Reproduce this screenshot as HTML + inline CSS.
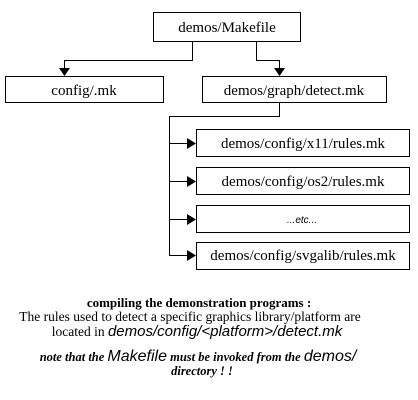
<!DOCTYPE html>
<html><head><meta charset="utf-8"><style>
html,body{margin:0;padding:0;background:#fff;width:418px;height:400px;overflow:hidden}
svg{display:block}
text{font-family:"Liberation Serif",serif;font-size:15px;fill:#000}
</style></head><body>
<svg width="418" height="400" viewBox="0 0 418 400">
<g fill="none" stroke="#000" stroke-width="1">
<rect x="153.5" y="12.5" width="147" height="29"/>
<rect x="5.5" y="76.5" width="158" height="26"/>
<rect x="202.5" y="76.5" width="184" height="26"/>
<rect x="196.5" y="129.5" width="213" height="27"/>
<rect x="196.5" y="167.5" width="213" height="27"/>
<rect x="196.5" y="205.5" width="213" height="27"/>
<rect x="196.5" y="242.5" width="213" height="27"/>
<polyline points="192.5,42 192.5,60.5 64.5,60.5 64.5,70"/>
<polyline points="256.5,42 256.5,60.5 279.5,60.5 279.5,70"/>
<polyline points="279.5,103 279.5,116.5 169.5,116.5 169.5,255.5 190,255.5"/>
<line x1="169" y1="143.5" x2="190" y2="143.5"/>
<line x1="169" y1="181.5" x2="190" y2="181.5"/>
<line x1="169" y1="219.5" x2="190" y2="219.5"/>
</g>
<g fill="#000">
<polygon points="59,68 70,68 64.5,76"/>
<polygon points="274,68 285,68 279.5,76"/>
<polygon points="187,138 196,143.5 187,149"/>
<polygon points="187,176 196,181.5 187,187"/>
<polygon points="187,214 196,219.5 187,225"/>
<polygon points="187,250 196,255.5 187,261"/>
</g>
<text x="227" y="32" text-anchor="middle">demos/Makefile</text>
<text x="84" y="95" text-anchor="middle">config/.mk</text>
<text x="294" y="95" text-anchor="middle">demos/graph/detect.mk</text>
<text x="303" y="148" text-anchor="middle">demos/config/x11/rules.mk</text>
<text x="303" y="186" text-anchor="middle">demos/config/os2/rules.mk</text>
<text x="302" y="223" text-anchor="middle" style="font-family:'Liberation Sans',sans-serif;font-size:10px;font-style:italic">...etc...</text>
<text x="303" y="260" text-anchor="middle">demos/config/svgalib/rules.mk</text>
<text x="199" y="307" text-anchor="middle" style="font-weight:bold;font-size:13px">compiling the demonstration programs :</text>
<text x="190" y="321" text-anchor="middle" style="font-size:13.5px">The rules used to detect a specific graphics library/platform are</text>
<text x="197" y="336" text-anchor="middle" style="font-size:13.5px">located in <tspan style="font-family:'Liberation Sans',sans-serif;font-style:italic;font-size:15px">demos/config/&lt;platform&gt;/detect.mk</tspan></text>
<text x="198" y="361" text-anchor="middle" style="font-size:12.5px;font-weight:bold;font-style:italic">note that the <tspan style="font-family:'Liberation Sans',sans-serif;font-weight:normal;font-size:16px">Makefile</tspan> must be invoked from the <tspan style="font-family:'Liberation Sans',sans-serif;font-weight:normal;font-size:16px">demos/</tspan></text>
<text x="202" y="375" text-anchor="middle" style="font-size:12.5px;font-weight:bold;font-style:italic">directory ! !</text>
</svg>
</body></html>
